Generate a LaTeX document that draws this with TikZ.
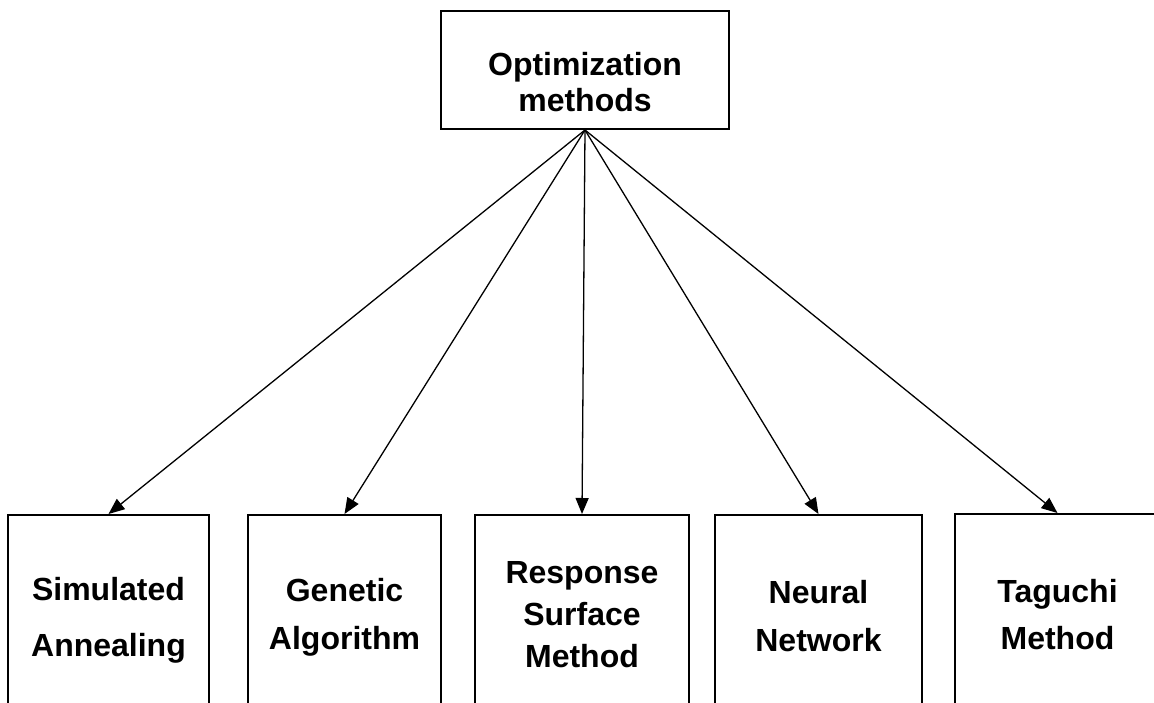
\documentclass[tikz,border=0pt]{standalone}
\usepackage{fontspec}
\setmainfont{Liberation Sans}
\usetikzlibrary{arrows.meta, positioning}

\tikzset{
  methodbox/.style={draw, line width=2pt, rectangle, align=center, anchor=north,
    font=\fontsize{32}{36}\selectfont\bfseries},
  branch/.style={line width=1.3pt, -{Triangle[length=16pt,width=13pt]}}
}

\begin{document}
\begin{tikzpicture}[x=1pt, y=-1pt]
    \useasboundingbox (0,0) rectangle (1154,702);
    \clip (0,0) rectangle (1154,702);

    % Root
    \node[methodbox, minimum width=288pt, minimum height=118pt,
          text height=82pt, text depth=0pt] (opt) at (585,10) {Optimization\\methods};

    % Leaves (running off the bottom edge)
    \node[methodbox, minimum width=201pt, minimum height=210pt] (sa) at (108.5,514) {Simulated\\[20pt]Annealing};
    \node[methodbox, minimum width=193pt, minimum height=204pt] (ga) at (344.5,514) {Genetic\\[12pt]Algorithm};
    \node[methodbox, minimum width=214pt, minimum height=200pt] (rsm) at (582,514) {Response\\[6pt]Surface\\[6pt]Method};
    \node[methodbox, minimum width=207pt, minimum height=203pt] (nn) at (818.5,514) {Neural\\[12pt]Network};
    \node[methodbox, minimum width=205pt, minimum height=202pt] (tm) at (1057.5,513) {Taguchi\\[11pt]Method};

    % Branches
    \draw[branch] (opt.south) -- (sa.north);
    \draw[branch] (opt.south) -- (ga.north);
    \draw[branch] (opt.south) -- (rsm.north);
    \draw[branch] (opt.south) -- (nn.north);
    \draw[branch] (opt.south) -- (tm.north);
\end{tikzpicture}
\end{document}
